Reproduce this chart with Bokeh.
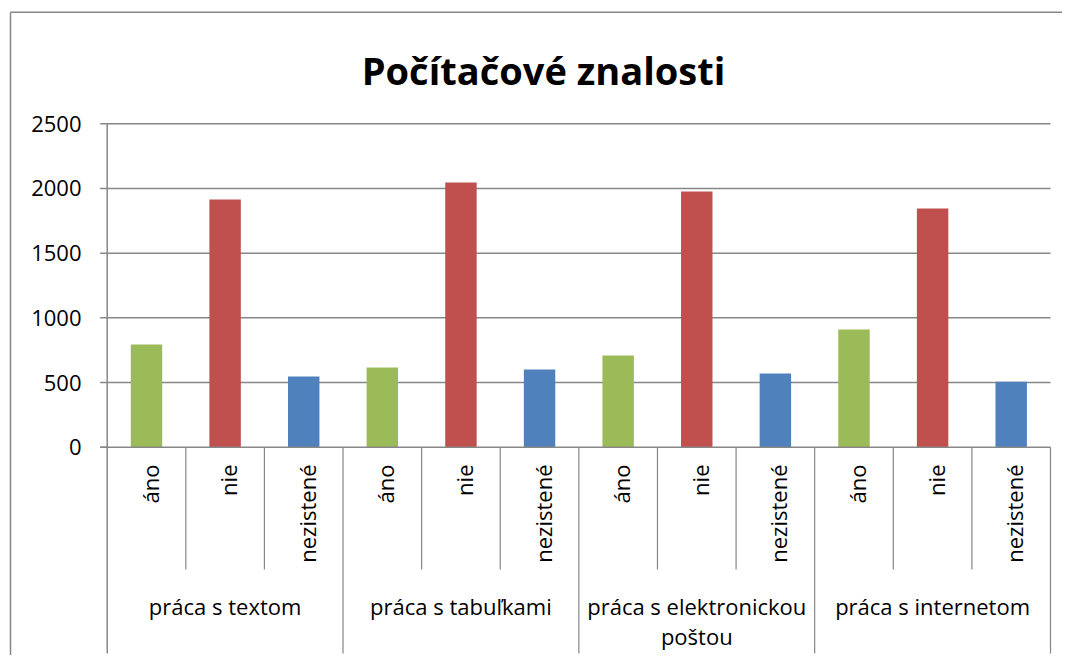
import math
import textwrap
from bokeh.plotting import figure
from bokeh.models import ColumnDataSource, Range1d
from bokeh.core.properties import value
from bokeh.embed import file_html
from bokeh.resources import INLINE

# ---------------- data ----------------
title_text = "Počítačové znalosti"
groups = ["práca s textom", "práca s tabuľkami",
          "práca s elektronickou poštou", "práca s internetom"]
answers = ["áno", "nie", "nezistené"]
ano = [794, 616, 709, 910]
nie = [1915, 2046, 1977, 1845]
nezistene = [546, 600, 570, 505]
y_ticks = [0, 500, 1000, 1500, 2000, 2500]

series = [ano, nie, nezistene]
colors = ["#9BBB59", "#C0504D", "#4F81BD"]

# ---------------- layout (pixels) ----------------
W, H = 1062, 655
PAGE = 0
plot_left = 106.7 - PAGE
plot_right = 1050 - PAGE
y_zero = 446.7 - PAGE
y_top = 123.3 - PAGE
n_sub = len(answers)
n_cat = len(groups) * n_sub
cat_w = (plot_right - plot_left) / n_cat
ymax = max(y_ticks)
ppu = (y_zero - y_top) / ymax


def dx(px):
    return (px - plot_left) / cat_w


def dy(py):
    return (y_zero - py) / ppu


p = figure(width=W, height=H,
           x_range=Range1d(dx(0), dx(W)), y_range=Range1d(dy(H), dy(0)),
           x_axis_type=None, y_axis_type=None, title=None,
           toolbar_location=None, output_backend="svg",
           min_border=0, outline_line_color=None,
           background_fill_color="white", border_fill_color="white")

FONT = value("Open Sans")
GRID = "#878787"

# outer chart border (left and top edges)
p.segment(x0=[dx(10 - PAGE), dx(10 - PAGE)], y0=[dy(H), dy(11.7 - PAGE)],
          x1=[dx(10 - PAGE), dx(W)], y1=[dy(11.7 - PAGE), dy(11.7 - PAGE)],
          line_color=GRID, line_width=1.5)

# gridlines
gl = [t for t in y_ticks if t > 0]
p.segment(x0=[0] * len(gl), x1=[n_cat] * len(gl), y0=gl, y1=gl,
          line_color=GRID, line_width=1.5)

# bars
xs, tops, cols = [], [], []
for gi, g in enumerate(groups):
    for ai, a in enumerate(answers):
        xs.append(gi * n_sub + ai + 0.5)
        tops.append(series[ai][gi])
        cols.append(colors[ai])
p.vbar(x=xs, top=tops, bottom=0, width=0.4, fill_color=cols, line_color=None)

# axes lines
p.segment(x0=[dx(plot_left - 7)], x1=[n_cat], y0=[0], y1=[0],
          line_color=GRID, line_width=1.5)
p.segment(x0=[0], x1=[0], y0=[ymax], y1=[dy(653 - PAGE)],
          line_color=GRID, line_width=1.5)
p.segment(x0=[dx(plot_left - 7)] * len(y_ticks), x1=[0] * len(y_ticks),
          y0=y_ticks, y1=y_ticks, line_color=GRID, line_width=1.5)

# category separators
sub_x = [i for i in range(1, n_cat) if i % n_sub != 0]
p.segment(x0=sub_x, x1=sub_x, y0=[0] * len(sub_x), y1=[dy(569 - PAGE)] * len(sub_x),
          line_color=GRID, line_width=1.2)
grp_x = [i for i in range(n_sub, n_cat + 1, n_sub)]
p.segment(x0=grp_x, x1=grp_x, y0=[0] * len(grp_x), y1=[dy(653 - PAGE)] * len(grp_x),
          line_color=GRID, line_width=1.2)

# y tick labels
p.text(x=[dx(81 - PAGE)] * len(y_ticks), y=y_ticks, text=[str(t) for t in y_ticks],
       text_align="right", text_baseline="middle", text_font=FONT,
       text_font_size="22px", text_color="black")

# sub-category labels (rotated)
p.text(x=[x + 3 / cat_w for x in xs], y=[dy(464 - PAGE)] * len(xs),
       text=[answers[i % n_sub] for i in range(n_cat)], angle=math.pi / 2,
       text_align="right", text_baseline="middle", text_font=FONT,
       text_font_size="22px", text_color="black")

# group labels (wrapped)
gx, gy, gt = [], [], []
for gi, g in enumerate(groups):
    for li, line in enumerate(textwrap.wrap(g, 21)):
        gx.append(gi * n_sub + n_sub / 2)
        gy.append(dy(605 - PAGE + 30 * li))
        gt.append(line)
p.text(x=gx, y=gy, text=gt, text_align="center", text_baseline="middle",
       text_font=FONT, text_font_size="22px", text_color="black")

# title
p.text(x=[dx(543 - PAGE)], y=[dy(69 - PAGE)], text=[title_text],
       text_align="center", text_baseline="alphabetic", text_font=FONT,
       text_font_style="bold", text_font_size="38px", text_color="black")

open("out.html", "w").write(file_html(p, INLINE))
